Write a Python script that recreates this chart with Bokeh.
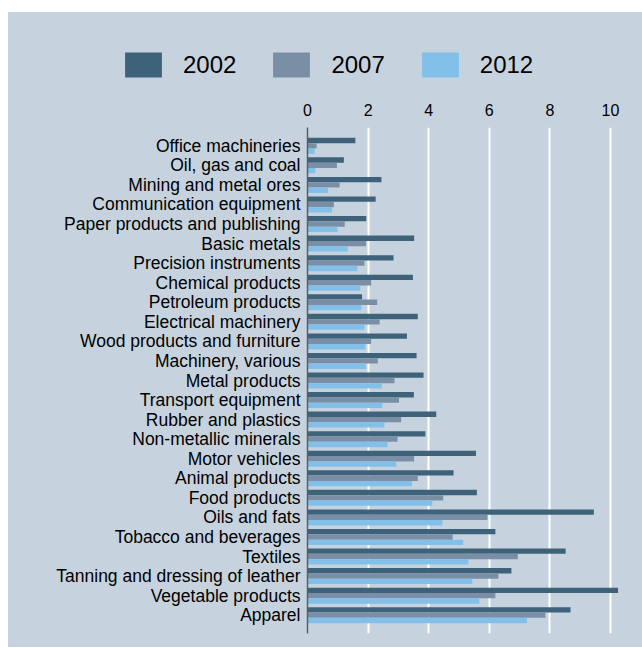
from bokeh.plotting import figure
from bokeh.layouts import column
from bokeh.models import Range1d, FixedTicker, Legend, LegendItem, ColumnDataSource
from bokeh.embed import file_html
from bokeh.resources import INLINE

categories = [
    "Office machineries", "Oil, gas and coal", "Mining and metal ores",
    "Communication equipment", "Paper products and publishing", "Basic metals",
    "Precision instruments", "Chemical products", "Petroleum products",
    "Electrical machinery", "Wood products and furniture", "Machinery, various",
    "Metal products", "Transport equipment", "Rubber and plastics",
    "Non-metallic minerals", "Motor vehicles", "Animal products", "Food products",
    "Oils and fats", "Tobacco and beverages", "Textiles",
    "Tanning and dressing of leather", "Vegetable products", "Apparel",
]
v2002 = [1.58, 1.20, 2.44, 2.25, 1.94, 3.52, 2.84, 3.48, 1.80, 3.64, 3.28, 3.60,
         3.83, 3.51, 4.25, 3.89, 5.56, 4.82, 5.59, 9.45, 6.20, 8.52, 6.73, 10.25, 8.68]
v2007 = [0.30, 0.97, 1.06, 0.87, 1.23, 1.93, 1.88, 2.10, 2.30, 2.38, 2.10, 2.32,
         2.87, 3.02, 3.09, 2.97, 3.52, 3.64, 4.48, 5.94, 4.79, 6.94, 6.30, 6.20, 7.85]
v2012 = [0.23, 0.26, 0.68, 0.81, 0.99, 1.33, 1.65, 1.74, 1.78, 1.88, 1.91, 1.93,
         2.45, 2.47, 2.54, 2.64, 2.93, 3.45, 4.12, 4.45, 5.14, 5.31, 5.44, 5.67, 7.24]
years = ["2002", "2007", "2012"]
x_ticks = [0, 2, 4, 6, 8, 10]

colors = ["#3e6279", "#7a8fa5", "#82bfe9"]
bg = "#c6d3df"
font = "Liberation Sans"

n = len(categories)
idx = list(range(n))
bar_h = 0.273
offsets = [-bar_h, 0.0, bar_h]

# ---- main chart ----
p = figure(width=634, height=557, output_backend="svg", toolbar_location=None,
           x_range=Range1d(0, 10.66), y_range=Range1d(n - 1 + 0.936, -0.936),
           x_axis_location="above", min_border_left=299, min_border_right=12,
           min_border_top=37, min_border_bottom=14)
p.frame_align = False
p.background_fill_color = bg
p.border_fill_color = bg
p.outline_line_color = None
p.styles = {"background-color": bg}

for vals, off, col in zip([v2002, v2007, v2012], offsets, colors):
    src = ColumnDataSource(dict(y=[i + off for i in idx], right=vals))
    p.hbar(y="y", right="right", left=0, height=bar_h, source=src,
           fill_color=col, line_color=None)

p.xgrid.grid_line_color = "white"
p.xgrid.grid_line_width = 2
p.ygrid.grid_line_color = None
p.xaxis.ticker = FixedTicker(ticks=x_ticks)
p.xaxis.axis_line_color = None
p.xaxis.major_tick_line_color = None
p.xaxis.major_tick_out = 0
p.xaxis.major_tick_in = 0
p.xaxis.minor_tick_line_color = None
p.xaxis.major_label_text_font = font
p.xaxis.major_label_text_font_size = "16px"
p.xaxis.major_label_text_color = "black"
p.xaxis.major_label_standoff = 12

p.yaxis.ticker = FixedTicker(ticks=idx)
p.yaxis.major_label_overrides = {i: c for i, c in enumerate(categories)}
p.yaxis.axis_line_color = "#5a5f66"
p.yaxis.axis_line_width = 1.5
p.yaxis.major_tick_line_color = None
p.yaxis.major_tick_out = 0
p.yaxis.major_tick_in = 0
p.yaxis.minor_tick_line_color = None
p.yaxis.major_label_text_font = font
p.yaxis.major_label_text_font_size = "17.5px"
p.yaxis.major_label_text_color = "black"
p.yaxis.major_label_standoff = 7

# ---- legend strip ----
lg = figure(width=634, height=78, output_backend="svg", toolbar_location=None,
            x_axis_type=None, y_axis_type=None, x_range=Range1d(0, 1), y_range=Range1d(0, 1),
            min_border=0)
lg.frame_align = False
lg.background_fill_color = bg
lg.border_fill_color = bg
lg.outline_line_color = None
lg.grid.grid_line_color = None
lg.styles = {"background-color": bg}

items = []
for y, col in zip(years, colors):
    # zero-size proxy glyph, used only for the legend swatch
    r = lg.hbar(y=[0], right=[0], left=0, height=0, fill_color=col, line_color=None)
    items.append(LegendItem(label=y, renderers=[r]))

legend = Legend(items=items, orientation="horizontal", location=(112, 10))
legend.glyph_width = 46
legend.glyph_height = 31
legend.label_standoff = 17
legend.spacing = 32
legend.padding = 0
legend.margin = 0
legend.border_line_color = None
legend.background_fill_alpha = 0
legend.label_text_font = font
legend.label_text_font_size = "24px"
legend.label_text_color = "black"
lg.add_layout(legend)

layout = column(lg, p, spacing=0)
layout.margin = (12, 0, 0, 8)
layout.styles = {"background-color": bg}

open("out.html", "w").write(file_html(layout, INLINE))
